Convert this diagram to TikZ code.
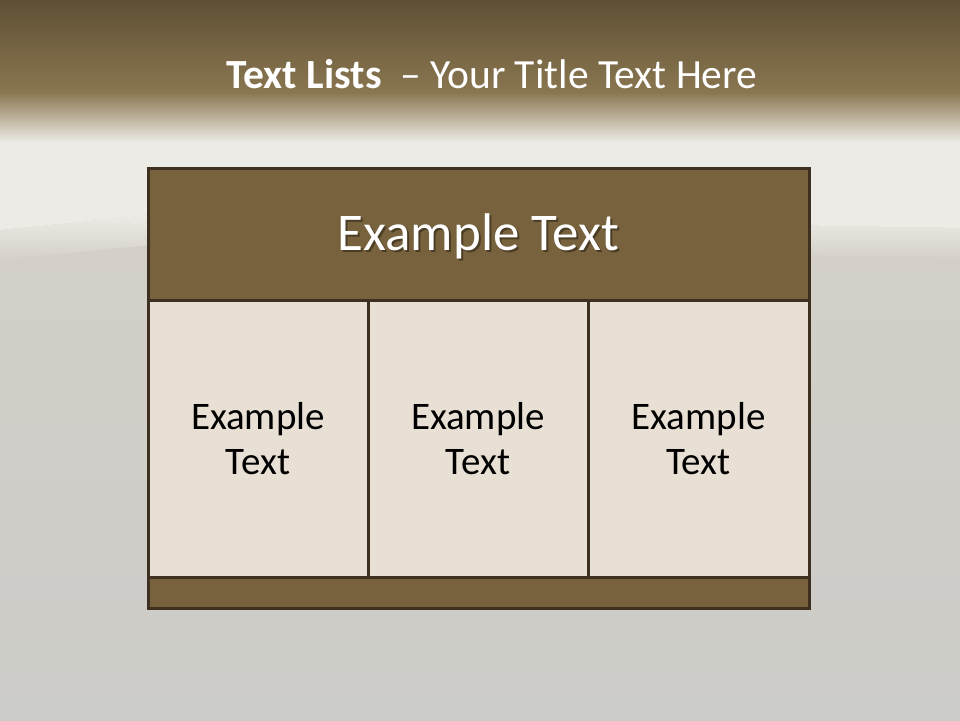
\documentclass[tikz,border=0pt]{standalone}
\usepackage{fontspec}
\setmainfont{Carlito}
\definecolor{bandtop}{HTML}{5F5035}
\definecolor{bandmid}{HTML}{8A7650}
\definecolor{lightbg}{HTML}{EDEBE5}
\definecolor{greybg}{HTML}{D4D0C9}
\definecolor{greybot}{HTML}{CBCBC7}
\definecolor{frame}{HTML}{3D3020}
\definecolor{headfill}{HTML}{77623D}
\definecolor{cellfill}{HTML}{E8E0D4}
\definecolor{shadowc}{HTML}{2E2414}
\tikzset{
  panel/.style={draw=frame, line width=3pt, inner sep=0pt, outer sep=0pt, anchor=north west},
  headbox/.style={panel, fill=headfill},
  cellbox/.style={panel, fill=cellfill, text=black, align=center,
     font=\fontsize{39}{45}\selectfont},
}
\begin{document}
\begin{tikzpicture}[x=1pt,y=-1pt]
\useasboundingbox (0,0) rectangle (960,720);
% background
\fill[greybot] (0,0) rectangle (960,720);
\shade[top color=greybg, bottom color=greybot] (0,240) rectangle (960,720);
\shade[top color=lightbg, bottom color=greybg] (0,230) -- (150,215) -- (960,228) -- (960,258) -- (150,245) -- (0,260) -- cycle;
\fill[lightbg] (0,130) -- (960,130) -- (960,228) -- (150,215) -- (0,230) -- cycle;
\shade[top color=bandmid, bottom color=lightbg] (0,92) rectangle (960,142);
\shade[top color=bandtop, bottom color=bandmid] (0,0) rectangle (960,93);
% title
\node[text=white, font=\fontsize{41.5}{48}\selectfont, anchor=base] (title) at (492,88)
  {\textbf{Text Lists}\ \ – Your Title Text Here};
% table
\node[headbox, minimum width=661pt, minimum height=132pt] (head) at (148,168) {};
\node[text=shadowc, opacity=0.6, font=\fontsize{53}{60}\selectfont] (headshadow) at ([shift={(2,4)}]head.center) {Example Text};
\node[text=white, font=\fontsize{53}{60}\selectfont] (headtext) at ([shift={(0,2)}]head.center) {Example Text};
\node[cellbox, minimum width=220pt, minimum height=277pt] (c1) at (148,300) {Example\\Text};
\node[cellbox, minimum width=220pt, minimum height=277pt] (c2) at (368,300) {Example\\Text};
\node[cellbox, minimum width=221pt, minimum height=277pt] (c3) at (588,300) {Example\\Text};
\node[headbox, minimum width=661pt, minimum height=31pt] (foot) at (148,577) {};
\end{tikzpicture}
\end{document}
